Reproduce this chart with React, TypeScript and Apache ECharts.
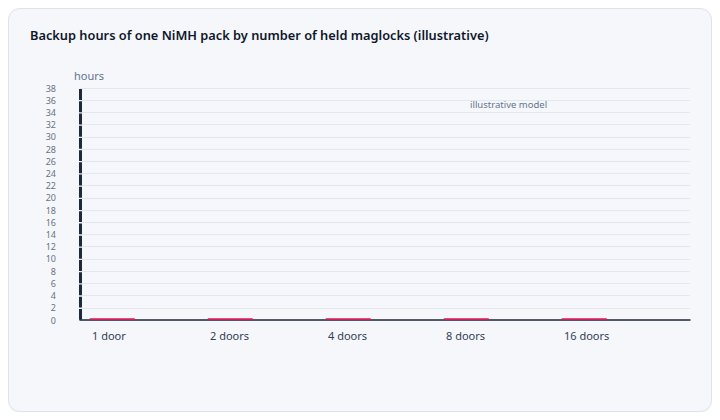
import React, { useEffect, useRef } from 'react';
import * as echarts from 'echarts';

// 数据
const categories = ['1 door', '2 doors', '4 doors', '8 doors', '16 doors'];
const backupHours = [0.3, 0.3, 0.3, 0.3, 0.3];
const spacerValues = [0, 0, 0, 0, 0];
const yMin = 0;
const yMax = 38;
const yStep = 2;

const FONT = '"Noto Sans", "Open Sans", sans-serif';

const App: React.FC = () => {
  const chartRef = useRef<HTMLDivElement>(null);

  useEffect(() => {
    if (!chartRef.current) return;
    const chart = echarts.init(chartRef.current, undefined, { renderer: 'svg' });

    const option = {
      animation: false,
      textStyle: { fontFamily: FONT },
      title: {
        text: 'Backup hours of one NiMH pack by number of held maglocks (illustrative)',
        left: 16,
        top: 14,
        textStyle: { fontSize: 12.8, fontWeight: 600, color: '#0f172a', fontFamily: FONT }
      },
      graphic: [
        {
          type: 'text',
          left: 461,
          top: 90,
          style: { text: 'illustrative model', fontSize: 9.5, fill: '#64748b', fontFamily: FONT }
        }
      ],
      grid: [
        { left: 71, right: 21, top: 79, bottom: 91 },
        { left: 24, right: 88, top: 79, bottom: 91 }
      ],
      xAxis: [
        {
          gridIndex: 0,
          type: 'category',
          data: categories,
          axisLine: { lineStyle: { color: '#1e293b', width: 1.5 } },
          axisTick: { show: false },
          axisLabel: { show: false }
        },
        {
          gridIndex: 1,
          type: 'category',
          data: categories,
          axisLine: { show: false },
          axisTick: { show: false },
          axisLabel: { align: 'left', margin: 10, fontSize: 11, color: '#334155' }
        }
      ],
      yAxis: [
        {
          gridIndex: 0,
          type: 'value',
          min: yMin,
          max: yMax,
          interval: yStep,
          name: 'hours',
          nameLocation: 'end',
          nameGap: 7,
          nameTextStyle: { fontSize: 11, color: '#64748b', align: 'center', padding: [0, 0, 0, 18] },
          axisLine: {
            show: true,
            lineStyle: { color: '#1e293b', width: 3, cap: 'butt', type: [10.9, 1.31], dashOffset: 11.55 }
          },
          axisTick: { show: false },
          axisLabel: { fontSize: 9, color: '#6b7280', margin: 24 },
          splitLine: { lineStyle: { color: '#e2e8f0', width: 1 } }
        },
        {
          gridIndex: 1,
          type: 'value',
          min: yMin,
          max: yMax,
          interval: yStep,
          show: false
        }
      ],
      series: [
        {
          type: 'bar',
          xAxisIndex: 1,
          yAxisIndex: 1,
          data: spacerValues,
          barWidth: 45,
          barGap: '-10%',
          silent: true,
          itemStyle: { color: 'rgba(0,0,0,0)' }
        },
        {
          name: 'Backup hours',
          type: 'bar',
          xAxisIndex: 1,
          yAxisIndex: 1,
          data: backupHours,
          barWidth: 45,
          barGap: '-10%',
          itemStyle: { color: '#d81b5a' }
        }
      ]
    };

    chart.setOption(option);
    return () => {
      chart.dispose();
    };
  }, []);

  return (
    <div
      style={{
        width: 704,
        height: 404,
        boxSizing: 'border-box',
        border: '1px solid #dde3ec',
        borderRadius: 12,
        background: '#f5f7fb',
        boxShadow: '0 1px 2px rgba(15, 23, 42, 0.06)'
      }}
    >
      <div ref={chartRef} style={{ width: 702, height: 402 }} />
    </div>
  );
};

export default App;
